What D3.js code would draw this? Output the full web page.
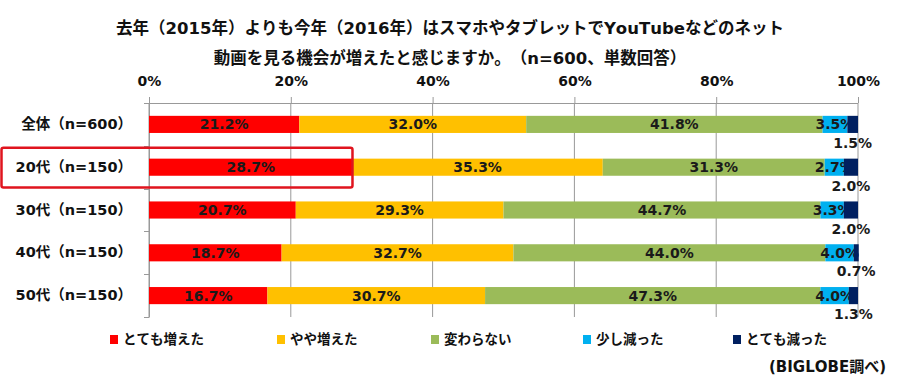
<!DOCTYPE html>
<html>
<head>
<meta charset="utf-8">
<script src="https://cdn.jsdelivr.net/npm/d3@7"></script>
<style>
  body { margin: 0; background: #fff; }
  svg text {
    font-family: "DejaVu Sans", "Noto Sans CJK JP", sans-serif;
    font-kerning: none;
    font-feature-settings: "chws" 0, "halt" 0, "palt" 0;
    text-spacing-trim: space-all;
  }
</style>
</head>
<body>
<div id="chart"></div>
<script>
// data
var titleLines = ["去年（2015年）よりも今年（2016年）はスマホやタブレットでYouTubeなどのネット",
                  "動画を見る機会が増えたと感じますか。（n=600、単数回答）"];
var categories = ["全体（n=600）", "20代（n=150）", "30代（n=150）", "40代（n=150）", "50代（n=150）"];
var seriesNames = ["とても増えた", "やや増えた", "変わらない", "少し減った", "とても減った"];
var seriesColors = ["#ff0000", "#ffc000", "#9bbb59", "#00b0f0", "#002060"];
var totemoFueta = [21.2, 28.7, 20.7, 18.7, 16.7];
var yayaFueta   = [32.0, 35.3, 29.3, 32.7, 30.7];
var kawaranai   = [41.8, 31.3, 44.7, 44.0, 47.3];
var sukoshiHetta = [3.5, 2.7, 3.3, 4.0, 4.0];
var totemoHetta = [1.5, 2.0, 2.0, 0.7, 1.3];
var xTicks = [0, 0.2, 0.4, 0.6, 0.8, 1.0];
var highlighted = "20代（n=150）";
var sourceNote = "(BIGLOBE調べ)";

var width = 897, height = 383;
var margin = {top: 103, left: 149, right: 39, bottom: 66};

var svg = d3.select("#chart").append("svg")
    .attr("width", width)
    .attr("height", height);

// rows for stack
var allSeries = [totemoFueta, yayaFueta, kawaranai, sukoshiHetta, totemoHetta];
var rows = categories.map(function(c, i) {
    var r = {cat: c};
    seriesNames.forEach(function(s, j) { r[s] = allSeries[j][i] / 100; });
    return r;
});
var stacked = d3.stack().keys(seriesNames)(rows);

var x = d3.scaleLinear()
    .domain([0, 1])
    .range([margin.left, width - margin.right]);

var y = d3.scaleBand()
    .domain(categories)
    .range([margin.top, height - margin.bottom])
    .paddingInner(0.6)
    .paddingOuter(0.3);

// title
svg.append("g").selectAll("text")
    .data(titleLines)
    .enter().append("text")
    .attr("x", 450)
    .attr("y", function(d, i) { return 34 + i * 30; })
    .attr("text-anchor", "middle")
    .attr("font-size", 16.5)
    .attr("font-weight", "bold")
    .attr("fill", "#111")
    .text(function(d) { return d; });

// gridlines
svg.append("g").selectAll("line")
    .data(xTicks)
    .enter().append("line")
    .attr("x1", function(d) { return x(d); })
    .attr("x2", function(d) { return x(d); })
    .attr("y1", margin.top)
    .attr("y2", height - margin.bottom)
    .attr("stroke", "#999")
    .attr("stroke-width", 1);

// top axis
var xAxis = svg.append("g")
    .attr("transform", "translate(0," + margin.top + ")")
    .call(d3.axisTop(x)
        .tickValues(xTicks)
        .tickFormat(d3.format(".0%"))
        .tickSize(6)
        .tickSizeOuter(0)
        .tickPadding(11));
xAxis.select(".domain").attr("stroke", "#999").attr("d", "M" + (margin.left - 4) + ",0.5H" + x(1));
xAxis.selectAll(".tick line").attr("stroke", "#999");
xAxis.selectAll(".tick text")
    .attr("font-size", 14)
    .attr("font-weight", "bold")
    .attr("fill", "#111");

// left axis
var yAxis = svg.append("g")
    .attr("transform", "translate(" + margin.left + ",0)")
    .call(d3.axisLeft(y).tickSize(0).tickPadding(17));
yAxis.select(".domain").attr("stroke", "#999");
yAxis.selectAll(".tick text")
    .attr("font-size", 14.5)
    .attr("font-weight", "bold")
    .attr("fill", "#111");

// band boundary ticks
var boundaries = categories.map(function(c) { return y(c) - y.step() * y.paddingInner() / 2; });
boundaries.push(height - margin.bottom);
svg.append("g").selectAll("line")
    .data(boundaries)
    .enter().append("line")
    .attr("x1", margin.left - 5)
    .attr("x2", margin.left)
    .attr("y1", function(d) { return Math.round(d) + 0.5; })
    .attr("y2", function(d) { return Math.round(d) + 0.5; })
    .attr("stroke", "#999");

// bars
var layers = svg.append("g").selectAll("g")
    .data(stacked)
    .enter().append("g")
    .attr("fill", function(d, i) { return seriesColors[i]; });

layers.selectAll("rect")
    .data(function(d) { return d; })
    .enter().append("rect")
    .attr("x", function(d) { return x(d[0]); })
    .attr("y", function(d) { return y(d.data.cat); })
    .attr("width", function(d) { return x(d[1]) - x(d[0]); })
    .attr("height", y.bandwidth());

// value labels
var fmt = d3.format(".1%");
layers.each(function(layer, i) {
    var last = i === stacked.length - 1;
    d3.select(this).selectAll("text")
        .data(layer)
        .enter().append("text")
        .attr("x", function(d) { return (x(d[0]) + x(d[1])) / 2; })
        .attr("y", function(d) { return last ? y(d.data.cat) + y.bandwidth() + 10 : y(d.data.cat) + y.bandwidth() / 2; })
        .attr("dy", "0.36em")
        .attr("text-anchor", "middle")
        .attr("font-size", 14)
        .attr("font-weight", "bold")
        .attr("fill", "#1a1a1a")
        .text(function(d) { return fmt(d[1] - d[0]); });
});

// highlight box
var hiRow = stacked[0].find(function(d) { return d.data.cat === highlighted; });
var hiTop = y(highlighted) - y.step() * y.paddingInner() / 2 + 2;
svg.append("rect")
    .attr("x", 1.5)
    .attr("y", hiTop)
    .attr("width", x(hiRow[1]) - 1.5)
    .attr("height", y.step() - 3)
    .attr("rx", 2)
    .attr("fill", "none")
    .attr("stroke", "#e0141e")
    .attr("stroke-width", 2.5);

// legend
var legendX = [110, 277, 431, 583, 733];
var legend = svg.append("g").selectAll("g")
    .data(seriesNames)
    .enter().append("g")
    .attr("transform", function(d, i) { return "translate(" + legendX[i] + ",335)"; });
legend.append("rect")
    .attr("width", 8)
    .attr("height", 9)
    .attr("fill", function(d, i) { return seriesColors[i]; });
legend.append("text")
    .attr("x", 13)
    .attr("y", 4.5)
    .attr("dy", "0.36em")
    .attr("font-size", 13.5)
    .attr("font-weight", "bold")
    .attr("fill", "#111")
    .text(function(d) { return d; });

// source
svg.append("text")
    .attr("x", 886)
    .attr("y", 372)
    .attr("text-anchor", "end")
    .attr("font-size", 15)
    .attr("font-weight", "bold")
    .attr("fill", "#111")
    .text(sourceNote);
</script>
</body>
</html>
